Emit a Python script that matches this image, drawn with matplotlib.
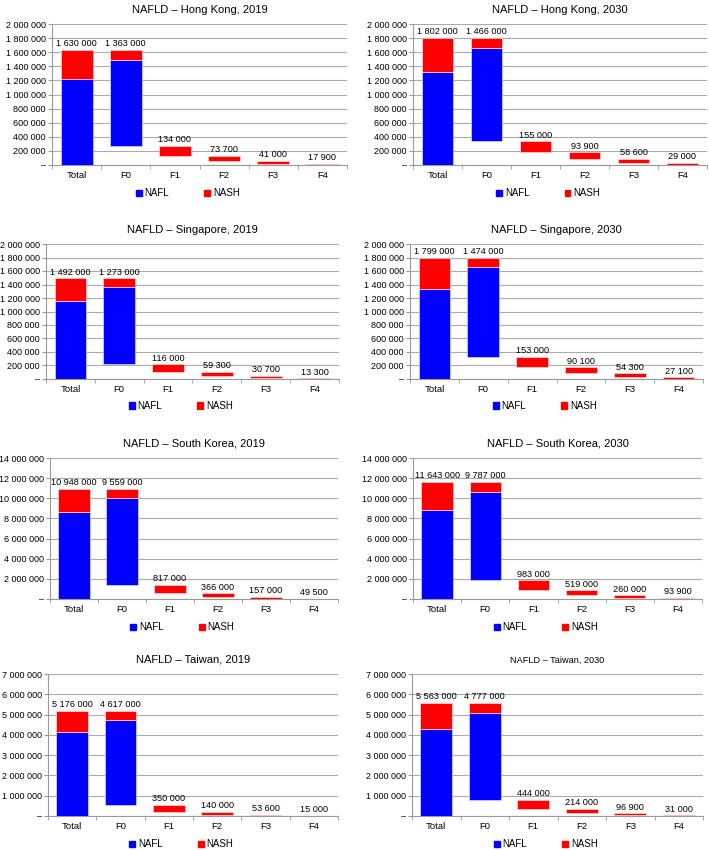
import matplotlib.pyplot as plt
from matplotlib.patches import Patch
import numpy as np

plt.rcParams['font.family'] = ['Liberation Sans', 'DejaVu Sans']

# categorias y datos
categorias = ['Total', 'F0', 'F1', 'F2', 'F3', 'F4']
titulos = ['NAFLD – Hong Kong, 2019', 'NAFLD – Hong Kong, 2030',
           'NAFLD – Singapore, 2019', 'NAFLD – Singapore, 2030',
           'NAFLD – South Korea, 2019', 'NAFLD – South Korea, 2030',
           'NAFLD – Taiwan, 2019', 'NAFLD – Taiwan, 2030']
totales = [1630000, 1802000, 1492000, 1799000, 10948000, 11643000, 5176000, 5563000]
nafl = [1220000, 1320000, 1150000, 1330000, 8650000, 8800000, 4150000, 4300000]
f0 = [1363000, 1466000, 1273000, 1474000, 9559000, 9787000, 4617000, 4777000]
f1 = [134000, 155000, 116000, 153000, 817000, 983000, 350000, 444000]
f2 = [73700, 93900, 59300, 90100, 366000, 519000, 140000, 214000]
f3 = [41000, 58600, 30700, 54300, 157000, 260000, 53600, 96900]
f4 = [17900, 29000, 13300, 27100, 49500, 93900, 15000, 31000]
ymax = [2000000, 2000000, 2000000, 2000000, 14000000, 14000000, 7000000, 7000000]

AZUL = '#0000ff'
ROJO = '#ff0000'

# posiciones de los ejes en pixeles (izq, arriba, der, abajo)
cajas = [(52, 24, 347, 165), (413, 24, 707, 165),
         (46, 244, 339, 379), (410, 244, 703, 379),
         (50, 458, 338, 599), (413, 458, 702, 599),
         (48, 674, 338, 816), (412, 674, 703, 816)]

W, H = 709, 850
fig = plt.figure(figsize=(W / 100, H / 100), dpi=100)


def fmt(v):
    if v == 0:
        return '–'
    return f'{int(round(v)):,}'.replace(',', ' ')


for i in range(8):
    l, t, r, b = cajas[i]
    ax = fig.add_axes([l / W, 1 - b / H, (r - l) / W, (b - t) / H])
    x = np.arange(len(categorias))
    ancho = 0.65
    tot = totales[i]
    niveles = [f0[i], f1[i], f2[i], f3[i], f4[i]]

    # barra total
    ax.bar(0, nafl[i], ancho, color=AZUL, edgecolor='#d8d8ff', linewidth=0.5, zorder=3)
    ax.bar(0, tot - nafl[i], ancho, bottom=nafl[i], color=ROJO, edgecolor='#ffd8d8', linewidth=0.5, zorder=3)

    # F0 flotante
    base = tot - f0[i]
    ax.bar(1, nafl[i], ancho, bottom=base, color=AZUL, edgecolor='#d8d8ff', linewidth=0.5, zorder=3)
    ax.bar(1, f0[i] - nafl[i], ancho, bottom=base + nafl[i], color=ROJO, edgecolor='#ffd8d8', linewidth=0.5, zorder=3)

    etiquetas = [(0, tot, tot), (1, tot, f0[i])]
    arriba = base
    for k, v in enumerate(niveles[1:]):
        ax.bar(k + 2, v, ancho, bottom=arriba - v, color=ROJO, edgecolor='#ffd8d8', linewidth=0.5, zorder=3)
        etiquetas.append((k + 2, arriba, v))
        arriba -= v

    for xi, top, v in etiquetas:
        ax.text(xi, top + ymax[i] * 0.012, fmt(v), ha='center', va='bottom', fontsize=6.6, zorder=4)

    ax.set_xlim(-0.5, 5.5)
    ax.set_ylim(0, ymax[i])
    ax.set_yticks(np.linspace(0, ymax[i], 11 if ymax[i] == 2000000 else 8))
    ax.set_yticklabels([fmt(v) for v in ax.get_yticks()], fontsize=6.5)
    ax.set_xticks(x)
    ax.set_xticklabels(categorias, fontsize=6.8)
    ax.set_xticks(np.arange(-0.5, 6, 1), minor=True)
    ax.tick_params(axis='x', which='major', length=0, pad=4)
    ax.tick_params(axis='x', which='minor', length=3, color='#999999')
    ax.tick_params(axis='y', length=3, color='#999999', pad=1.5)
    ax.grid(axis='y', color='#aaaaaa', linewidth=0.8, zorder=0)
    ax.set_axisbelow(True)
    for s in ['top', 'right']:
        ax.spines[s].set_visible(False)
    ax.spines['left'].set_color('#999999')
    ax.spines['bottom'].set_color('#999999')

    tam = 6.6 if i == 7 else 8
    ax.set_title(titulos[i], fontsize=tam, pad=8)

    handles = [Patch(color=AZUL, label='NAFL'), Patch(color=ROJO, label='NASH')]
    ax.legend(handles=handles, loc='center', bbox_to_anchor=(0.46, -0.2), ncol=2,
              frameon=False, fontsize=7, handlelength=0.6, handleheight=0.6,
              handletextpad=0.3, columnspacing=3.6)

fig.savefig('out.png', dpi=100)
